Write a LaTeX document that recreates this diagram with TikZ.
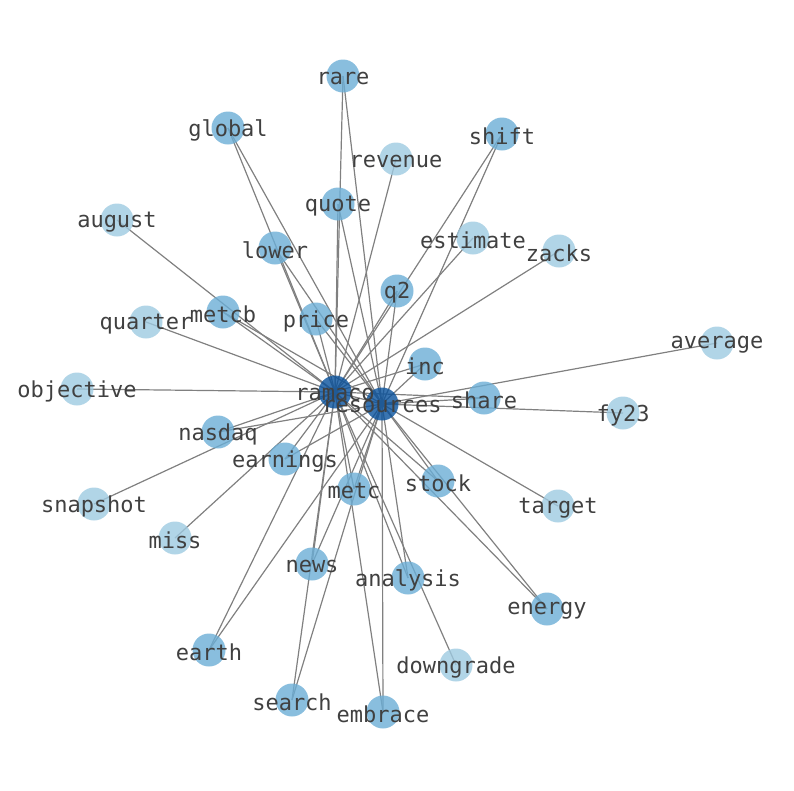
\documentclass[tikz,border=0pt]{standalone}
\usepackage{fontspec}
\setmonofont{DejaVu Sans Mono}
\definecolor{hubc}{HTML}{08519C}
\definecolor{midc}{HTML}{6BAED6}
\definecolor{lowc}{HTML}{9ECAE1}
\definecolor{lblc}{HTML}{404040}
\definecolor{edgec}{HTML}{808080}
\tikzset{
  dot/.style={circle,minimum size=33pt,inner sep=0pt,draw=none,fill opacity=0.8},
  hub/.style={dot,fill=hubc},
  mid/.style={dot,fill=midc},
  low/.style={dot,fill=lowc},
  lbl/.style={text=lblc,font=\ttfamily\fontsize{22}{24}\selectfont,inner sep=0pt,anchor=center,yshift=-2pt},
  edge/.style={draw=edgec,line width=1.2pt}
}
\begin{document}
\begin{tikzpicture}[x=1pt,y=-1pt]
\useasboundingbox (0,0) rectangle (794,790);
% positions
\foreach \n/\x/\y in {ramaco/335/392,resources/382/404,
  rare/343/76,global/228/128,shift/502/134,quote/338/204,lower/275/248,q2/397/291,
  metcb/223/312,price/316/319,inc/425/364,share/484/398,nasdaq/218/432,earnings/285/459,
  metc/354/489,stock/438/481,news/312/564,analysis/408/578,energy/547/609,earth/209/650,
  search/292/700,embrace/383/712,
  revenue/396/159,august/117/220,estimate/473/238,zacks/559/251,quarter/146/322,
  average/717/343,objective/77/389,fy23/623/413,snapshot/94/504,target/558/506,
  miss/175/538,downgrade/456/665}
  \coordinate (\n) at (\x,\y);
% edges
\draw[edge] (ramaco) -- (resources);
\foreach \n in {rare,global,shift,quote,lower,q2,metcb,price,inc,share,nasdaq,earnings,metc,stock,news,analysis,energy,earth,search,embrace}{
  \draw[edge] (\n) -- (ramaco);
  \draw[edge] (\n) -- (resources);
}
\foreach \n in {revenue,august,estimate,zacks,quarter,objective,snapshot,miss,downgrade}
  \draw[edge] (\n) -- (ramaco);
\foreach \n in {average,fy23,target}
  \draw[edge] (\n) -- (resources);
% nodes
\foreach \n in {rare,global,shift,quote,lower,q2,metcb,price,inc,share,nasdaq,earnings,metc,stock,news,analysis,energy,earth,search,embrace}
  \node[mid] (c-\n) at (\n) {};
\foreach \n in {revenue,august,estimate,zacks,quarter,average,objective,fy23,snapshot,target,miss,downgrade}
  \node[low] (c-\n) at (\n) {};
\node[hub] (c-ramaco) at (ramaco) {};
\node[hub] (c-resources) at (resources) {};
% labels
\foreach \n in {rare,global,shift,quote,lower,q2,metcb,price,inc,share,nasdaq,earnings,metc,stock,news,analysis,energy,earth,search,embrace,revenue,august,estimate,zacks,quarter,average,objective,fy23,snapshot,target,miss,downgrade,ramaco,resources}
  \node[lbl] (t-\n) at (\n) {\n};
\end{tikzpicture}
\end{document}
